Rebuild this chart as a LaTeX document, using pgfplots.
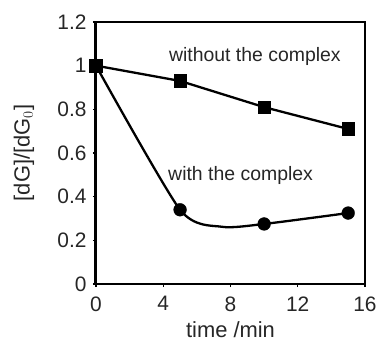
\documentclass[border=0pt]{standalone}
\usepackage{fontspec}
\setmainfont{Liberation Sans}
\usepackage{pgfplots}
\pgfplotsset{compat=1.18}
\begin{document}
\begin{tikzpicture}
\begin{axis}[
  name=ax,
  scale only axis, width=269bp, height=262bp,
  xmin=0, xmax=16, ymin=0, ymax=1.2,
  xtick={0,4,8,12,16}, ytick={0,0.2,0.4,0.6,0.8,1,1.2},
  yticklabels={0,0.2,0.4,0.6,0.8,1,1.2},
  tick align=outside, major tick length=3bp,
  xtick pos=bottom, ytick pos=left,
  axis line style={line width=1.6bp},
  every tick/.style={black, line width=1.2bp},
  tick label style={font=\fontsize{21}{21}\selectfont, text=black!85},
  yticklabel style={xshift=-3bp},
  xticklabel style={yshift=-6bp},
  /pgf/number format/assume math mode=true,
  xlabel={time /min}, ylabel={[dG]/[dG$_0$]},
  every axis x label/.style={at={(axis description cs:0.5,-0.1756)}, anchor=center, font=\fontsize{22}{22}\selectfont, text=black!85},
  every axis y label/.style={at={(axis description cs:-0.2677,0.5)}, rotate=90, anchor=center, font=\fontsize{22}{22}\selectfont, text=black!85},
  clip=false,
]
\addplot[black, line width=2.3bp, mark=square*, mark size=6.3bp, mark options={solid, line width=0.5bp}]
  coordinates {(0,1) (5,0.93) (10,0.81) (15,0.71)};
\addplot[black, line width=2.3bp, smooth, tension=0.4, no marks]
  coordinates {(0,1) (5,0.34) (7.5,0.262) (10,0.275) (15,0.325)};
\addplot[black, only marks, mark=*, mark size=6.4bp]
  coordinates {(0,1) (5,0.34) (10,0.275) (15,0.325)};
\node[font=\fontsize{19.5}{19.5}\selectfont, text=black!85] at (axis cs:9.45,1.04) {without the complex};
\node[font=\fontsize{19.5}{19.5}\selectfont, text=black!85] at (axis cs:8.6,0.495) {with the complex};
\draw[line width=3bp] (rel axis cs:0,0) -- (rel axis cs:0,1);
\end{axis}
\pgfresetboundingbox
\path[use as bounding box] ([shift={(-96bp,-63bp)}]ax.south west) rectangle ([shift={(14bp,22bp)}]ax.north east);
\end{tikzpicture}
\end{document}
